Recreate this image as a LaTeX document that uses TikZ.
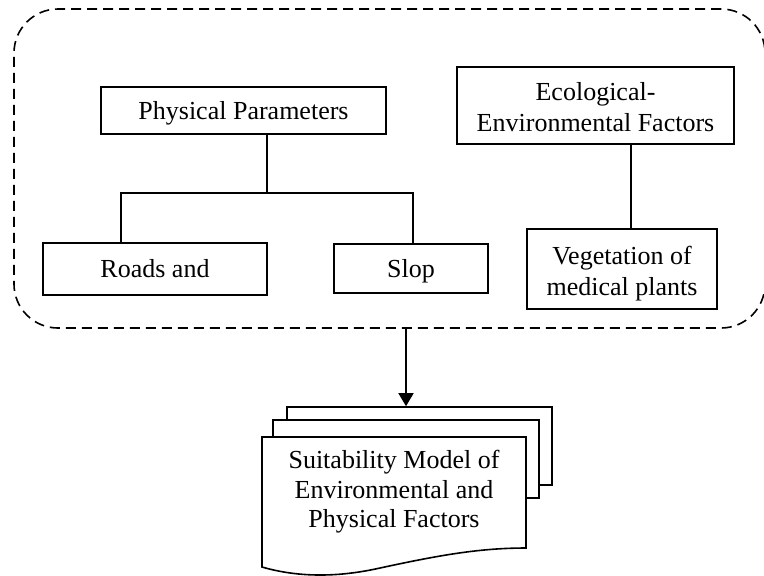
\documentclass[tikz,border=0pt]{standalone}
\usepackage{fontspec}
\setmainfont{Liberation Serif}
\usetikzlibrary{arrows.meta}
\begin{document}
\begin{tikzpicture}[x=0.5pt,y=-0.5pt,
  font=\fontsize{13}{15.5}\selectfont,
  box/.style={draw,line width=0.8pt,inner sep=0pt,align=center,fill=white},
  onebox/.style={box,text height=10.5pt,text depth=2pt},
  twobox/.style={box,text height=28pt,text depth=2pt},
  link/.style={line width=0.8pt},
  group/.style={draw,dashed,dash pattern=on 5pt off 3pt,line width=0.8pt,rounded corners=22pt,inner sep=0pt},
  doc/.style={draw,line width=0.8pt,fill=white,inner sep=0pt},
  arr/.style={line width=0.8pt,-{Triangle[width=7.5pt,length=6.5pt]}}]
\useasboundingbox (0,0) rectangle (764,575);
% container
\node[group,minimum width=375.5pt,minimum height=159.5pt] (grp) at (389.5,168.5) {};
% boxes
\node[onebox,minimum width=142.5pt,minimum height=23.5pt] (phys) at (243.5,110.5) {Physical Parameters};
\node[twobox,minimum width=138.5pt,minimum height=38.5pt] (eco) at (595.5,105.5) {Ecological-\\Environmental Factors};
\node[onebox,minimum width=112pt,minimum height=26pt] (roads) at (155,269) {Roads and};
\node[onebox,minimum width=77pt,minimum height=24.5pt] (slop) at (411,268.5) {Slop};
\node[twobox,minimum width=95pt,minimum height=40pt] (veg) at (622,269) {Vegetation of\\medical plants};
% connectors
\coordinate (j) at (267,193);
\coordinate (bl) at (121,193);
\coordinate (br) at (413,193);
\coordinate (ev) at (631,0);
\draw[link] (phys.south -| j) -- (j);
\draw[link] (roads.north -| bl) -- (bl) -- (br) -- (slop.north -| br);
\draw[link] (eco.south -| ev) -- (veg.north -| ev);
% document stack
\node[doc,minimum width=132.5pt,minimum height=39pt] (back) at (419.5,446) {};
\node[doc,minimum width=133pt,minimum height=39pt] (mid) at (406,459) {};
\draw[doc] (262,437) -- (526,437) -- (526,548)
  .. controls (480,548) and (440,555) .. (380,568)
  .. controls (340,577) and (300,578) .. (262,567) -- cycle;
\node[align=center,inner sep=0pt,font=\fontsize{13}{14.7}\selectfont] (docText) at (394,492) {Suitability Model of\\Environmental and\\Physical Factors};
% arrow
\coordinate (ax) at (406,0);
\draw[arr] (grp.south -| ax) -- (back.north -| ax);
\end{tikzpicture}
\end{document}
